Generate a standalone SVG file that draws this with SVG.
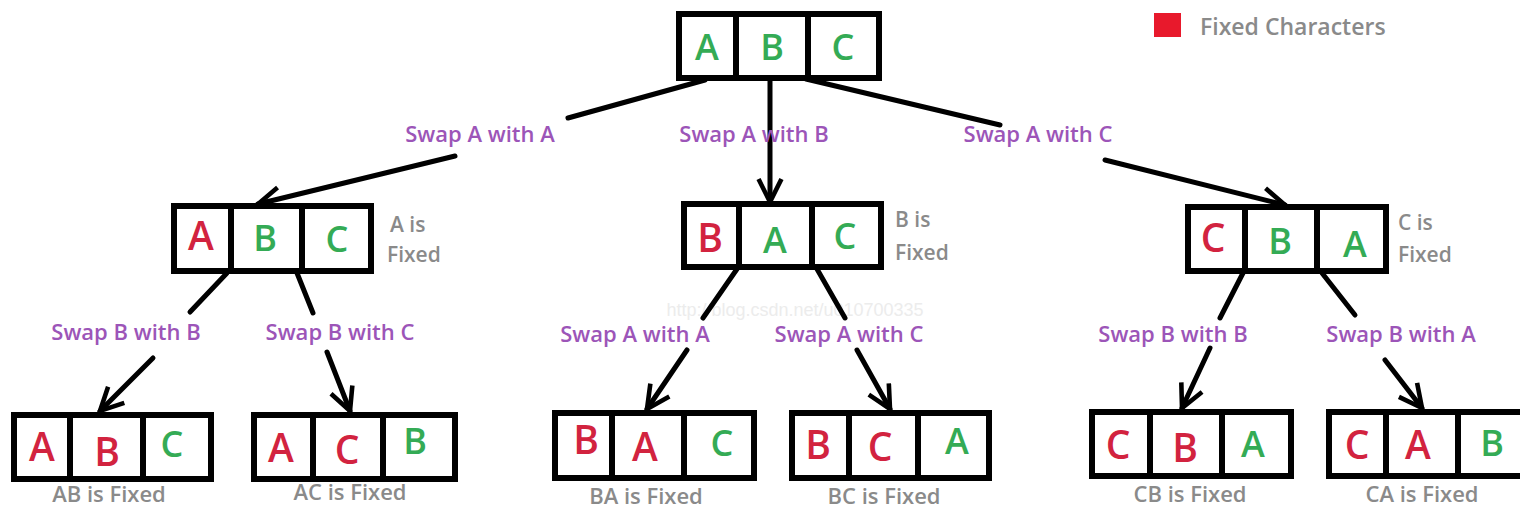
<svg xmlns="http://www.w3.org/2000/svg" width="1520" height="509" viewBox="0 0 1520 509">
<defs>
<style>
.box{fill:#fff;stroke:#000;stroke-width:6}
.div{stroke:#000;stroke-width:6}
.r{fill:#d2233f;font-family:"Open Sans","Liberation Sans",sans-serif;font-weight:600;font-size:39px;text-anchor:middle}
.g{fill:#34ab55;font-family:"Open Sans","Liberation Sans",sans-serif;font-weight:600;font-size:36px;text-anchor:middle}
.lbl{fill:#9c55b8;font-family:"Open Sans","Liberation Sans",sans-serif;font-weight:600;font-size:22px;text-anchor:middle}
.gray{fill:#8a8a8a;font-family:"Open Sans","Liberation Sans",sans-serif;font-weight:600;font-size:21px}
.legend{fill:#8a8a8a;font-family:"Open Sans","Liberation Sans",sans-serif;font-weight:600;font-size:23px}
.grayc{fill:#8a8a8a;font-family:"Open Sans","Liberation Sans",sans-serif;font-weight:600;font-size:22px;text-anchor:middle}
.ln{stroke:#000;stroke-width:5;fill:none;stroke-linecap:round}
</style>
<marker id="ah" viewBox="0 0 12 12" refX="11" refY="6" markerWidth="5.5" markerHeight="5.5" orient="auto" markerUnits="strokeWidth">
<polyline points="1,1 11,6 1,11" fill="none" stroke="#000" stroke-width="2"/>
</marker>
</defs>
<rect width="1520" height="509" fill="#fff"/>

<text x="795" y="316" font-family="Liberation Sans, sans-serif" font-size="18" fill="#ececec" text-anchor="middle">http://blog.csdn.net/u010700335</text>

<g id="legend">
<rect x="1154" y="13" width="27" height="24" fill="#e8192c"/>
<text class="legend" x="1200" y="35">Fixed Characters</text>
</g>

<g id="connectors">
<line class="ln" x1="705" y1="80" x2="568" y2="118"/>
<line class="ln" x1="455" y1="156" x2="258" y2="204" marker-end="url(#ah)"/>
<line class="ln" x1="770" y1="80" x2="770" y2="202" marker-end="url(#ah)"/>
<line class="ln" x1="806" y1="79" x2="1000" y2="125"/>
<line class="ln" x1="1105" y1="160" x2="1285" y2="205" marker-end="url(#ah)"/>

<line class="ln" x1="227" y1="273" x2="190" y2="312"/>
<line class="ln" x1="153" y1="358" x2="100" y2="411" marker-end="url(#ah)"/>
<line class="ln" x1="297" y1="273" x2="313" y2="313"/>
<line class="ln" x1="327" y1="352" x2="350" y2="411" marker-end="url(#ah)"/>

<line class="ln" x1="737" y1="269" x2="703" y2="318"/>
<line class="ln" x1="687" y1="350" x2="647" y2="409" marker-end="url(#ah)"/>
<line class="ln" x1="817" y1="269" x2="845" y2="318"/>
<line class="ln" x1="857" y1="350" x2="890" y2="409" marker-end="url(#ah)"/>

<line class="ln" x1="1243" y1="273" x2="1220" y2="318"/>
<line class="ln" x1="1210" y1="348" x2="1182" y2="408" marker-end="url(#ah)"/>
<line class="ln" x1="1322" y1="273" x2="1355" y2="315"/>
<line class="ln" x1="1385" y1="360" x2="1422" y2="408" marker-end="url(#ah)"/>
</g>

<g id="labels">
<text class="lbl" x="480" y="142">Swap A with A</text>
<text class="lbl" x="754" y="142">Swap A with B</text>
<text class="lbl" x="1038" y="142">Swap A with C</text>
<text class="lbl" x="126" y="340">Swap B with B</text>
<text class="lbl" x="340" y="340">Swap B with C</text>
<text class="lbl" x="635" y="342">Swap A with A</text>
<text class="lbl" x="849" y="342">Swap A with C</text>
<text class="lbl" x="1173" y="342">Swap B with B</text>
<text class="lbl" x="1401" y="342">Swap B with A</text>
</g>

<g id="node-abc">
<rect class="box" x="679" y="14" width="200" height="64"/>
<line class="div" x1="736" y1="14" x2="736" y2="78"/>
<line class="div" x1="808" y1="14" x2="808" y2="78"/>
<text class="g" x="707" y="60">A</text>
<text class="g" x="772" y="60">B</text>
<text class="g" x="843" y="60">C</text>
</g>

<g id="node-a-fixed">
<rect class="box" x="174" y="206" width="197" height="65"/>
<line class="div" x1="231" y1="206" x2="231" y2="271"/>
<line class="div" x1="302" y1="206" x2="302" y2="271"/>
<text class="r" x="201" y="250">A</text>
<text class="g" x="265" y="251">B</text>
<text class="g" x="337" y="252">C</text>
<text class="gray" x="390" y="232">A is</text>
<text class="gray" x="387" y="262">Fixed</text>
</g>

<g id="node-b-fixed">
<rect class="box" x="684" y="204" width="197" height="63"/>
<line class="div" x1="739" y1="204" x2="739" y2="267"/>
<line class="div" x1="812" y1="204" x2="812" y2="267"/>
<text class="r" x="710" y="252">B</text>
<text class="g" x="775" y="253">A</text>
<text class="g" x="845" y="249">C</text>
<text class="gray" x="895" y="227">B is</text>
<text class="gray" x="895" y="260">Fixed</text>
</g>

<g id="node-c-fixed">
<rect class="box" x="1188" y="207" width="198" height="64"/>
<line class="div" x1="1245" y1="207" x2="1245" y2="271"/>
<line class="div" x1="1317" y1="207" x2="1317" y2="271"/>
<text class="r" x="1213" y="252">C</text>
<text class="g" x="1280" y="254">B</text>
<text class="g" x="1355" y="257">A</text>
<text class="gray" x="1398" y="230">C is</text>
<text class="gray" x="1398" y="262">Fixed</text>
</g>

<g id="node-ab">
<rect class="box" x="14" y="415" width="197" height="64"/>
<line class="div" x1="70" y1="415" x2="70" y2="479"/>
<line class="div" x1="143" y1="415" x2="143" y2="479"/>
<text class="r" x="42" y="461">A</text>
<text class="r" x="107" y="466">B</text>
<text class="g" x="172" y="457">C</text>
<text class="grayc" x="109" y="502">AB is Fixed</text>
</g>

<g id="node-ac">
<rect class="box" x="254" y="415" width="201" height="64"/>
<line class="div" x1="313" y1="415" x2="313" y2="479"/>
<line class="div" x1="383" y1="415" x2="383" y2="479"/>
<text class="r" x="281" y="462">A</text>
<text class="r" x="347" y="464">C</text>
<text class="g" x="415" y="454">B</text>
<text class="grayc" x="350" y="500">AC is Fixed</text>
</g>

<g id="node-ba">
<rect class="box" x="555" y="413" width="199" height="65"/>
<line class="div" x1="612" y1="413" x2="612" y2="478"/>
<line class="div" x1="684" y1="413" x2="684" y2="478"/>
<text class="r" x="586" y="454">B</text>
<text class="r" x="645" y="461">A</text>
<text class="g" x="722" y="456">C</text>
<text class="grayc" x="646" y="504">BA is Fixed</text>
</g>

<g id="node-bc">
<rect class="box" x="792" y="413" width="197" height="65"/>
<line class="div" x1="849" y1="413" x2="849" y2="478"/>
<line class="div" x1="918" y1="413" x2="918" y2="478"/>
<text class="r" x="818" y="459">B</text>
<text class="r" x="880" y="461">C</text>
<text class="g" x="957" y="454">A</text>
<text class="grayc" x="884" y="504">BC is Fixed</text>
</g>

<g id="node-cb">
<rect class="box" x="1092" y="412" width="199" height="64"/>
<line class="div" x1="1150" y1="412" x2="1150" y2="476"/>
<line class="div" x1="1222" y1="412" x2="1222" y2="476"/>
<text class="r" x="1118" y="459">C</text>
<text class="r" x="1185" y="462">B</text>
<text class="g" x="1253" y="457">A</text>
<text class="grayc" x="1190" y="502">CB is Fixed</text>
</g>

<g id="node-ca">
<rect class="box" x="1329" y="412" width="200" height="64"/>
<line class="div" x1="1386" y1="412" x2="1386" y2="476"/>
<line class="div" x1="1458" y1="412" x2="1458" y2="476"/>
<text class="r" x="1357" y="459">C</text>
<text class="r" x="1418" y="459">A</text>
<text class="g" x="1492" y="456">B</text>
<text class="grayc" x="1422" y="502">CA is Fixed</text>
</g>
</svg>
